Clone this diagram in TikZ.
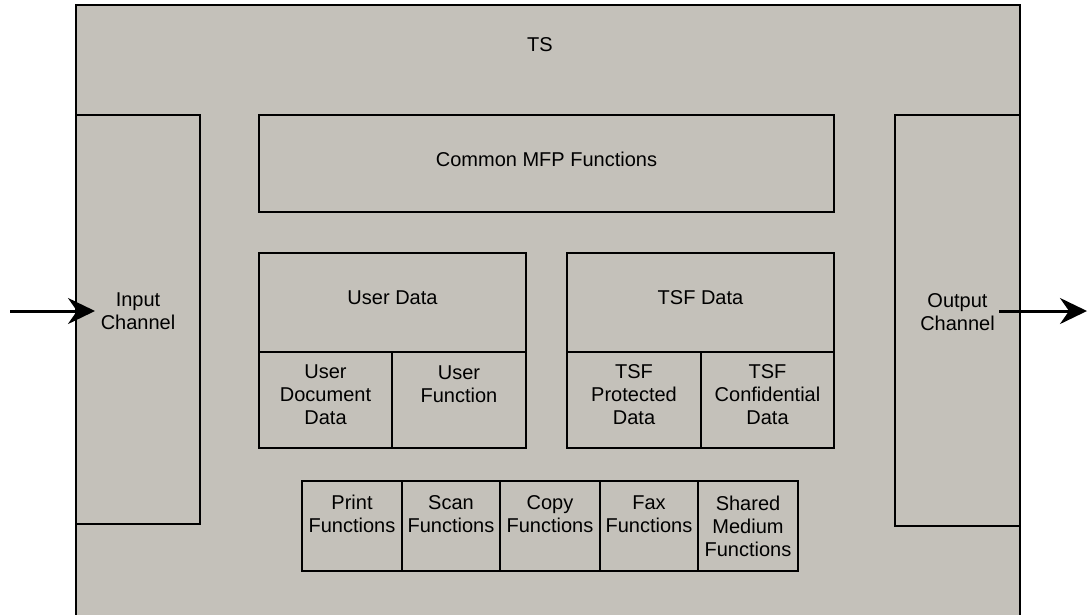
\documentclass[tikz,border=0pt]{standalone}
\usepackage{fontspec}
\setmainfont{Liberation Sans}
\usetikzlibrary{arrows.meta,calc}
\definecolor{tsgray}{RGB}{196,193,186}
\newcommand\mkcell[7]{\node[cell, minimum width={#4-#2}, minimum height={#5-#3}, text depth=#6pt, anchor=north west] (#1) at (#2,#3) {#7};}
\begin{document}
\begin{tikzpicture}[x=1pt,y=-1pt,
  cell/.style={draw=black, line width=1.2pt, inner sep=0pt, outer sep=0pt, align=center, font=\fontsize{20}{23}\selectfont},
  lbl/.style={font=\fontsize{20}{23}\selectfont},
  arr/.style={line width=3pt, -{Stealth[length=27pt,width=26pt,inset=9pt]}},
]
\clip (0,0) rectangle (1091,614);
\fill[white] (0,0) rectangle (1091,614);
\node[draw=black, line width=1.5pt, fill=tsgray, minimum width=944pt, minimum height=640pt, anchor=north west, inner sep=0pt, outer sep=0pt] (ts) at (76,5) {};
\node[lbl] (tslabel) at (540,45) {TS};
\mkcell{inch}{76}{115}{200}{524}{17}{Input\\Channel}
\mkcell{outch}{895}{115}{1020}{526}{17}{Output\\Channel}
\mkcell{common}{259}{115}{834}{212}{9}{Common MFP Functions}
\mkcell{userdata}{259}{253}{526}{352}{10}{User Data}
\mkcell{udoc}{259}{352}{392}{448}{10}{User\\Document\\Data}
\mkcell{ufun}{392}{352}{526}{448}{32}{User\\Function}
\mkcell{tsfdata}{567}{253}{834}{352}{10}{TSF Data}
\mkcell{tsfprot}{567}{352}{701}{448}{10}{TSF\\Protected\\Data}
\mkcell{tsfconf}{701}{352}{834}{448}{10}{TSF\\Confidential\\Data}
\mkcell{print}{302}{481}{402}{571}{24}{Print\\Functions}
\mkcell{scan}{402}{481}{500}{571}{24}{Scan\\Functions}
\mkcell{copy}{500}{481}{600}{571}{24}{Copy\\Functions}
\mkcell{fax}{600}{481}{698}{571}{24}{Fax\\Functions}
\mkcell{shared}{698}{481}{798}{571}{0}{Shared\\Medium\\Functions}
\coordinate (inA) at (10,311);
\coordinate (outA) at (1087,311);
\draw[arr] (inA) -- ($(inch.west|-inA)+(19,0)$);
\draw[arr] ($(outch.east|-outA)+(-21,0)$) -- (outA);
\end{tikzpicture}
\end{document}
